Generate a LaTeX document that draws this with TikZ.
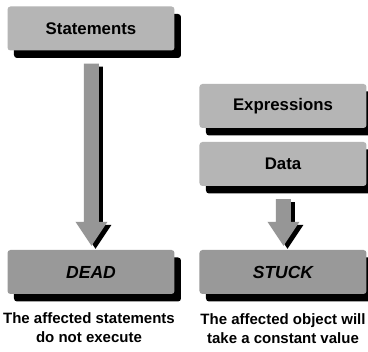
\documentclass[tikz,border=0pt]{standalone}
\usepackage{fontspec}
\setmainfont{Liberation Sans}
\usetikzlibrary{shadows,calc}

\definecolor{boxlight}{RGB}{181,181,181}
\definecolor{boxdark}{RGB}{153,153,153}
\definecolor{arrowgray}{RGB}{150,150,150}

% Fat down arrow from the bottom of #1 to the top of #2, filled with #3,
% moved by (#4,#5) for the shadow copy
\newcommand\blockarrow[5]{%
  \fill[#3] let \p1=(#1.south), \p2=(#2.north),
                \p3=(\x2+#4,\y1-13pt+#5), \p4=(\x2+#4,\y2+#5) in
    (\x3-7pt,\y3) -- (\x3+8pt,\y3) -- (\x3+8pt,\y4+28pt) --
    (\x3+16.5pt,\y4+28pt) -- (\x3+0.5pt,\y4+4pt) -- (\x3-15.5pt,\y4+28pt) --
    (\x3-7pt,\y4+28pt) -- cycle;}

\begin{document}
\begin{tikzpicture}[x=1pt,y=-1pt,
  box/.style={rounded corners=3pt, minimum width=167pt, minimum height=44pt,
    inner sep=0pt, font=\fontsize{16.8}{20}\selectfont\bfseries,
    drop shadow={shadow xshift=6.5pt, shadow yshift=-7.5pt, fill=black, opacity=1}},
  lightbox/.style={box, fill=boxlight},
  darkbox/.style={box, fill=boxdark, font=\fontsize{17.5}{20}\selectfont\bfseries\itshape},
  caption/.style={align=center, font=\fontsize{15}{19}\selectfont\bfseries, inner sep=0pt}]

  \path[fill=white, use as bounding box] (0,0) rectangle (368,352);

  % boxes
  \node[lightbox] (stmt)  at (91,28.5) {Statements};
  \node[lightbox] (expr)  at (283,106) {Expressions};
  \node[lightbox] (data)  at (283,164) {Data};
  \node[darkbox]  (dead)  at (91,272)  {DEAD};
  \node[darkbox]  (stuck) at (283,272) {STUCK};

  % arrows with their shadows
  \blockarrow{stmt}{dead}{black}{4pt}{-3pt}
  \blockarrow{data}{stuck}{black}{4pt}{-3pt}
  \blockarrow{stmt}{dead}{arrowgray}{0pt}{0pt}
  \blockarrow{data}{stuck}{arrowgray}{0pt}{0pt}

  % notes under the boxes
  \node[caption] (deadnote)  at (89,328)  {The affected statements\\do not execute};
  \node[caption] (stucknote) at (283,329) {The affected object will\\take a constant value};
\end{tikzpicture}
\end{document}
